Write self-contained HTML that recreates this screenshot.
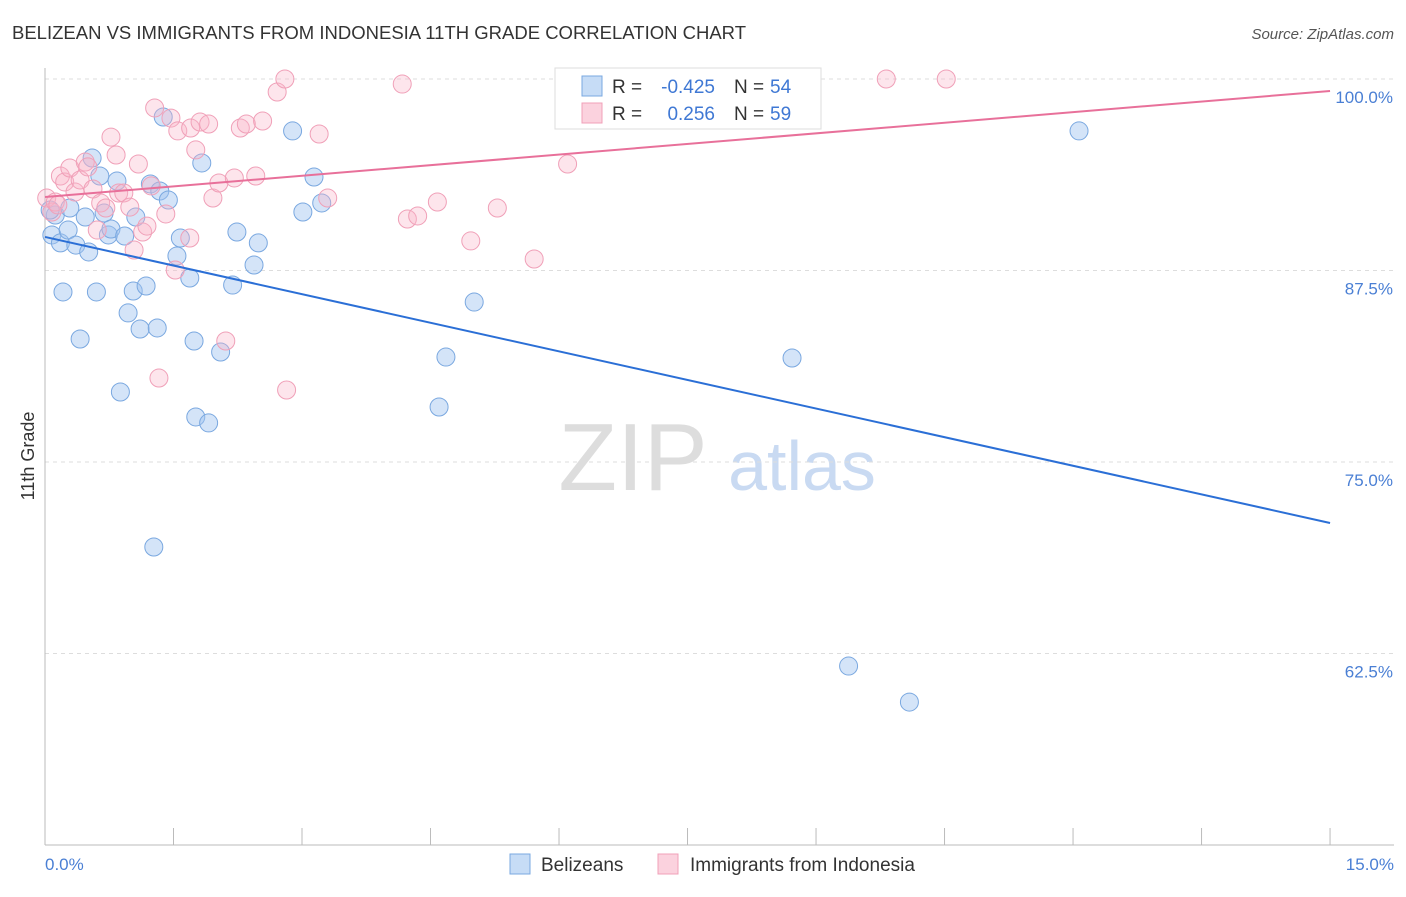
<!DOCTYPE html>
<html><head><meta charset="utf-8"><style>
body{margin:0;background:#fff;font-family:"Liberation Sans",sans-serif;}
svg text{font-family:"Liberation Sans",sans-serif;}
</style></head><body>
<svg id="c" width="1406" height="892" xmlns="http://www.w3.org/2000/svg">
<text x="12" y="39" font-size="18" fill="#333" textLength="734" lengthAdjust="spacingAndGlyphs">BELIZEAN VS IMMIGRANTS FROM INDONESIA 11TH GRADE CORRELATION CHART</text>
<text x="1394" y="39" font-size="15" fill="#555" font-style="italic" text-anchor="end">Source: ZipAtlas.com</text>
<text x="633" y="490" font-size="96" fill="#ddd" font-family="Liberation Serif" text-anchor="middle">ZIP</text>
<text x="802" y="490" font-size="70" fill="#c9daf2" text-anchor="middle">atlas</text>
<g id="grid"></g><g id="axes"></g><g id="pts"></g><g id="lines"></g>
<text x="34" y="456" font-size="18" fill="#333" text-anchor="middle" transform="rotate(-90 34 456)">11th Grade</text>
<g>
<rect x="555" y="68" width="266" height="61" fill="#fff" stroke="#ddd"/>
<rect x="582" y="76" width="20" height="20" fill="rgba(160,196,240,0.6)" stroke="#7aa8e0"/>
<rect x="582" y="103" width="20" height="20" fill="rgba(248,180,200,0.6)" stroke="#f0a0b8"/>
<text x="612" y="93" font-size="19" fill="#333">R =</text>
<text x="715" y="93" font-size="19" fill="#3f78d4" text-anchor="end">-0.425</text>
<text x="734" y="93" font-size="19" fill="#333">N =</text>
<text x="770" y="93" font-size="19" fill="#3f78d4">54</text>
<text x="612" y="120" font-size="19" fill="#333">R =</text>
<text x="715" y="120" font-size="19" fill="#3f78d4" text-anchor="end">0.256</text>
<text x="734" y="120" font-size="19" fill="#333">N =</text>
<text x="770" y="120" font-size="19" fill="#3f78d4">59</text>
</g>
<g>
<rect x="510" y="854" width="20" height="20" fill="rgba(160,196,240,0.6)" stroke="#7aa8e0"/>
<text x="541" y="871" font-size="19" fill="#333">Belizeans</text>
<rect x="658" y="854" width="20" height="20" fill="rgba(248,180,200,0.6)" stroke="#f0a0b8"/>
<text x="690" y="871" font-size="19" fill="#333">Immigrants from Indonesia</text>
</g>
</svg>
<script>
const blueX=[0.08,0.12,0.18,0.21,0.27,0.29,0.36,0.41,0.47,0.51,0.55,0.60,0.64,0.69,0.74,0.77,0.84,0.88,0.93,0.97,1.03,1.06,1.11,1.18,1.23,1.27,1.31,1.34,1.38,1.44,1.54,1.58,1.69,1.74,1.76,1.83,1.91,2.05,2.19,2.24,2.44,2.49,2.89,3.01,3.14,3.23,4.60,4.68,5.01,8.72,9.38,10.09,12.07,0.06];
const blueY=[89.82,91.12,89.30,86.10,90.14,91.58,89.16,83.03,90.99,88.71,94.84,86.10,93.67,91.25,89.82,90.21,93.34,79.57,89.75,84.73,86.16,90.99,83.68,86.49,93.15,69.45,83.75,92.69,97.52,92.10,88.45,89.62,87.01,82.90,77.94,94.52,77.55,82.18,86.55,90.01,87.86,89.30,96.61,91.32,93.60,91.91,78.59,81.85,85.44,81.79,61.68,59.33,96.61,91.45];
const pinkX=[0.02,0.08,0.12,0.15,0.18,0.23,0.29,0.35,0.41,0.47,0.50,0.56,0.61,0.65,0.71,0.77,0.83,0.86,0.92,0.99,1.04,1.09,1.14,1.19,1.24,1.28,1.33,1.41,1.47,1.52,1.55,1.69,1.70,1.76,1.81,1.91,1.96,2.03,2.11,2.21,2.28,2.35,2.46,2.54,2.71,2.80,2.82,3.20,3.30,4.17,4.23,4.35,4.58,4.97,5.28,5.71,6.10,8.95,9.82,10.52];
const pinkY=[92.23,91.32,91.97,91.78,93.67,93.28,94.19,92.62,93.41,94.58,94.26,92.82,90.14,91.91,91.58,96.21,95.04,92.56,92.56,91.64,88.84,94.45,90.01,90.40,93.02,98.11,80.48,91.19,97.45,87.53,96.61,89.62,96.80,95.37,97.19,97.06,92.23,93.21,82.90,93.54,96.80,97.06,93.67,97.26,99.15,100,79.70,96.41,92.23,99.67,90.86,91.06,91.97,89.43,91.58,88.25,94.45,98.69,100,100];
const blueTrend=[89.69,71.02];
const pinkTrend=[92.30,99.22];
const yTicks=[100,87.5,75,62.5];
const yTickLabels=["100.0%","87.5%","75.0%","62.5%"];
const xTickLabels=["0.0%","15.0%"];
const NS="http://www.w3.org/2000/svg";
const X=v=>45+v*85.67, Y=v=>79+(100-v)*15.32;
function mk(t,a,p){const e=document.createElementNS(NS,t);for(const k in a)e.setAttribute(k,a[k]);document.getElementById(p).appendChild(e);return e;}
yTicks.forEach((t,i)=>{
 const g=mk('line',{x1:45,x2:1394,y1:Y(t),y2:Y(t),stroke:'#ddd','stroke-dasharray':'4,4'},'grid');
 
 
 const l=mk('text',{x:1393,y:Y(t)+24,'font-size':17,fill:'#4a7fd4','text-anchor':'end'},'axes');
 l.textContent=yTickLabels[i];
 
 
});
const ax=mk('line',{x1:45,x2:45,y1:68,y2:845,stroke:'#bbb'},'axes');


const bx=mk('line',{x1:45,x2:1394,y1:845,y2:845,stroke:'#bbb'},'axes');


for(let i=0;i<=10;i++){const t=mk('line',{x1:X(i*1.5),x2:X(i*1.5),y1:828,y2:845,stroke:'#bbb'},'axes');
 
 }
[[0,'start',45],[15,'end',1394]].forEach((d,i)=>{const l=mk('text',{x:d[2],y:870,'font-size':17,fill:'#4a7fd4','text-anchor':d[1]},'axes');l.textContent=xTickLabels[i];
 
 });
blueX.forEach((v,i)=>{const c=mk('circle',{cx:X(v),cy:Y(blueY[i]),r:9,fill:'rgba(160,196,240,0.45)',stroke:'#7aa8e0','stroke-width':1},'pts');
 
 });
pinkX.forEach((v,i)=>{const c=mk('circle',{cx:X(v),cy:Y(pinkY[i]),r:9,fill:'rgba(248,180,200,0.35)',stroke:'#f0a0b8','stroke-width':1},'pts');
 
 });
const bl=mk('line',{x1:X(0),y1:Y(blueTrend[0]),x2:X(15),y2:Y(blueTrend[1]),stroke:'#2b6fd6','stroke-width':2},'lines');


const pl=mk('line',{x1:X(0),y1:Y(pinkTrend[0]),x2:X(15),y2:Y(pinkTrend[1]),stroke:'#e8709a','stroke-width':2},'lines');


</script>
</body></html>
